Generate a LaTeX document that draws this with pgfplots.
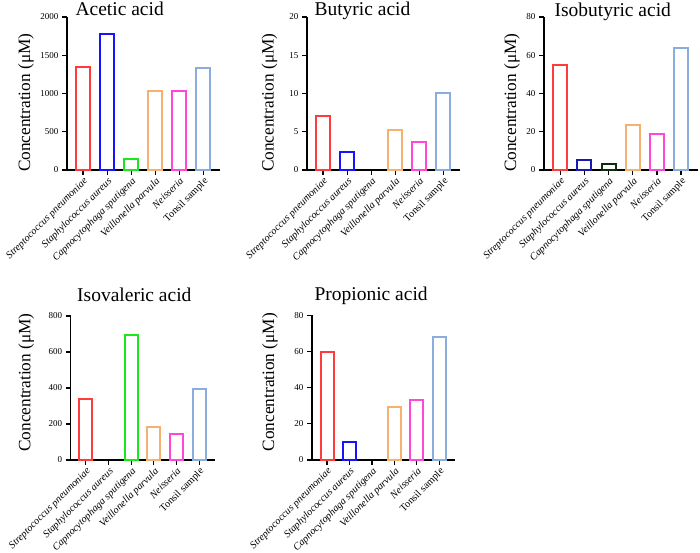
\documentclass[border=0pt]{standalone}
\usepackage{fontspec}
\setmainfont{Liberation Serif}
\usepackage{pgfplots}
\pgfplotsset{compat=1.18}

\definecolor{cRed}{HTML}{FF3C3C}
\definecolor{cBlue}{HTML}{1414FF}
\definecolor{cGreen}{HTML}{1EE61E}
\definecolor{cOrange}{HTML}{F5B170}
\definecolor{cPink}{HTML}{FF48DA}
\definecolor{cSky}{HTML}{8AADDB}
\definecolor{cNavy}{HTML}{1A1AB0}
\definecolor{cDkGreen}{HTML}{0D2E0D}

\pgfplotsset{
  acid/.style={
    scale only axis,
    anchor=south west,
    axis lines=left,
    axis line style={-, line width=1.3pt, black},
    tick style={line width=1.2pt, black},
    major tick length=5pt,
    tick align=outside,
    ymin=0,
    xmin=-0.67, xmax=5.70,
    xtick={0,...,5},
    xticklabels={\textit{Streptococcus pneumoniae}, \textit{Staphylococcus aureus}, \textit{Capnocytophaga sputigena}, \textit{Veillonella parvula}, \textit{Neisseria}, Tonsil sample},
    xticklabel style={rotate=45, anchor=north east, inner sep=1pt, font=\fontsize{10.3}{11}\selectfont},
    yticklabel style={font=\fontsize{9}{10}\selectfont, /pgf/number format/1000 sep={}, /pgf/number format/assume math mode=true},
    ylabel={Concentration (μM)},
    ylabel style={font=\fontsize{17.3}{18}\selectfont, anchor=center},
    every axis title shift=0pt,
    title style={font=\fontsize{19.5}{20}\selectfont, anchor=base west, at={(axis description cs:0,1)}},
    clip=false,
  },
  bx/.style={ybar, bar shift=0pt, fill=white, line width=2pt, draw=#1},
}

\begin{document}
\begin{tikzpicture}
\useasboundingbox (0,0) rectangle (700pt,-553pt);

% Acetic acid
\begin{axis}[acid, at={(67pt,-170pt)}, width=153pt, height=153pt,
    ymax=2000, ytick={0,500,1000,1500,2000}, bar width=14pt,
    title={Acetic acid}, title style={xshift=5pt, yshift=1pt},
    ylabel style={at={(axis description cs:0,0.44)}, yshift=41pt}]
  \addplot[bx=cRed] coordinates {(0,1340)};
  \addplot[bx=cBlue] coordinates {(1,1780)};
  \addplot[bx=cGreen] coordinates {(2,150)};
  \addplot[bx=cOrange] coordinates {(3,1030)};
  \addplot[bx=cPink] coordinates {(4,1035)};
  \addplot[bx=cSky] coordinates {(5,1335)};
\end{axis}

% Butyric acid
\begin{axis}[acid, at={(307pt,-170pt)}, width=153pt, height=153pt,
    ymax=20, ytick={0,5,10,15,20}, bar width=14pt,
    title={Butyric acid}, title style={xshift=4pt, yshift=1pt},
    ylabel style={at={(axis description cs:0,0.44)}, yshift=37.5pt}]
  \addplot[bx=cRed] coordinates {(0,7.05)};
  \addplot[bx=cBlue] coordinates {(1,2.4)};
  \addplot[bx=cOrange] coordinates {(3,5.2)};
  \addplot[bx=cPink] coordinates {(4,3.7)};
  \addplot[bx=cSky] coordinates {(5,10.05)};
\end{axis}

% Isobutyric acid
\begin{axis}[acid, at={(544pt,-170pt)}, width=154pt, height=153pt,
    ymax=80, ytick={0,20,40,60,80}, bar width=14pt,
    title={Isobutyric acid}, title style={xshift=7pt, yshift=1pt},
    ylabel style={at={(axis description cs:0,0.44)}, yshift=32pt}]
  \addplot[bx=cRed] coordinates {(0,55.1)};
  \addplot[bx=cNavy] coordinates {(1,5.3)};
  \addplot[bx=cDkGreen] coordinates {(2,3.3)};
  \addplot[bx=cOrange] coordinates {(3,23.4)};
  \addplot[bx=cPink] coordinates {(4,18.8)};
  \addplot[bx=cSky] coordinates {(5,64.0)};
\end{axis}

% Isovaleric acid
\begin{axis}[acid, at={(70.7pt,-460pt)}, width=144.3pt, height=144pt,
    ymax=800, ytick={0,200,400,600,800}, bar width=13pt,
    title={Isovaleric acid}, title style={xshift=3pt, yshift=15pt},
    ylabel style={at={(axis description cs:0,0.538)}, yshift=44.5pt}]
  \addplot[bx=cRed] coordinates {(0,338)};
  \addplot[bx=cGreen] coordinates {(2,695)};
  \addplot[bx=cOrange] coordinates {(3,182)};
  \addplot[bx=cPink] coordinates {(4,147)};
  \addplot[bx=cSky] coordinates {(5,392)};
\end{axis}

% Propionic acid
\begin{axis}[acid, at={(312pt,-460pt)}, width=143pt, height=144.7pt,
    ymax=80, ytick={0,20,40,60,80}, bar width=13pt,
    title={Propionic acid}, title style={xshift=-1pt, yshift=15pt},
    ylabel style={at={(axis description cs:0,0.538)}, yshift=42pt}]
  \addplot[bx=cRed] coordinates {(0,59.5)};
  \addplot[bx=cBlue] coordinates {(1,10.0)};
  \addplot[bx=cOrange] coordinates {(3,29.4)};
  \addplot[bx=cPink] coordinates {(4,33.4)};
  \addplot[bx=cSky] coordinates {(5,68.2)};
\end{axis}
\end{tikzpicture}
\end{document}
